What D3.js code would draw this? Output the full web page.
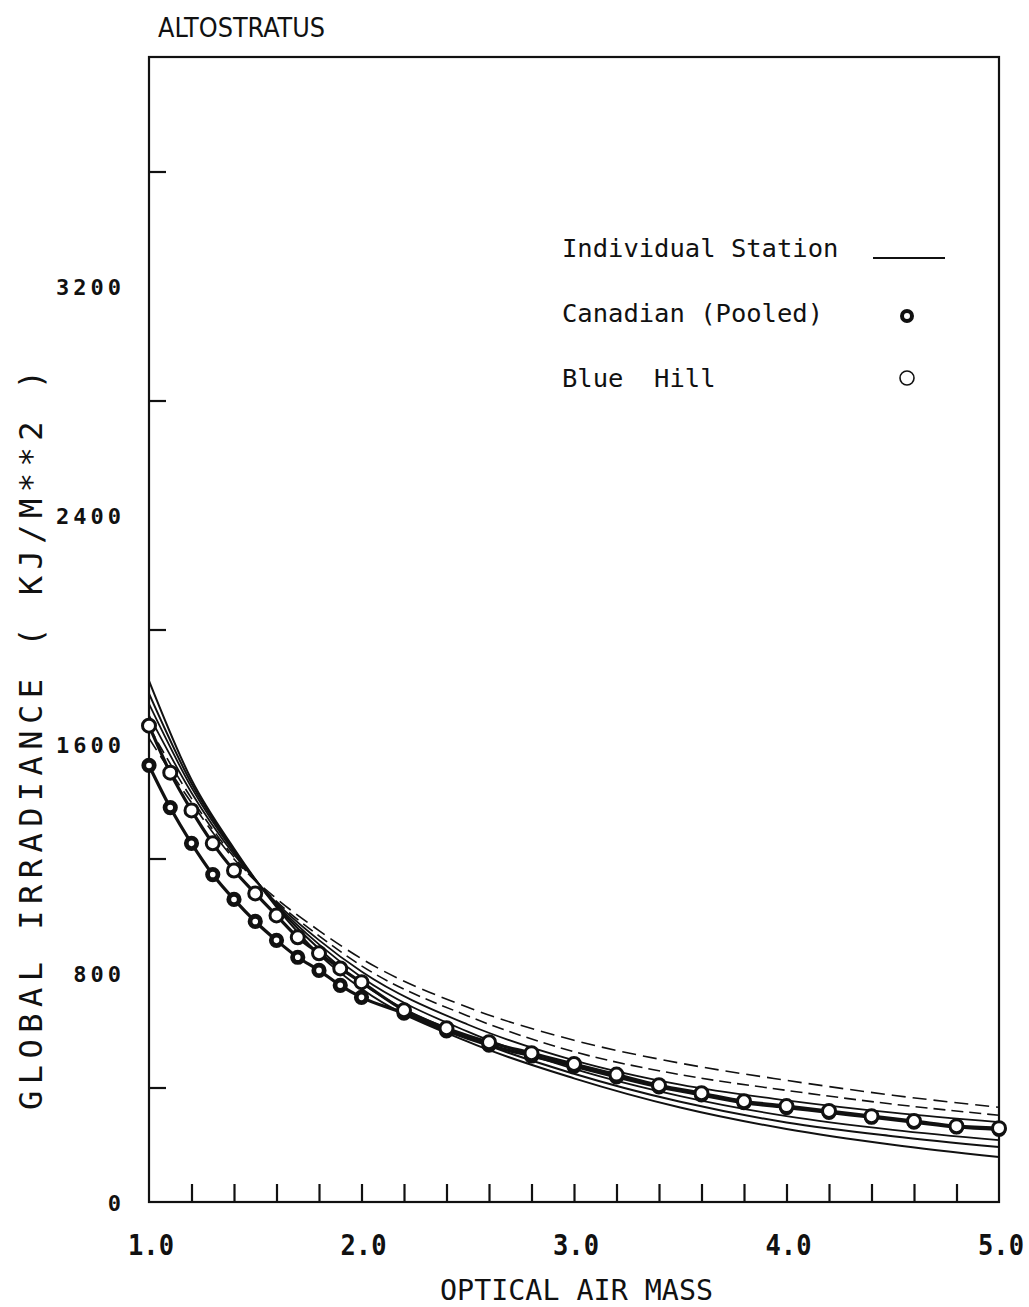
<!DOCTYPE html>
<html><head><meta charset="utf-8">
<script src="https://cdn.jsdelivr.net/npm/d3@7"></script>
<style>body{margin:0;background:#fff}</style>
</head><body>
<svg id="c" width="1029" height="1307"></svg>
<script>
// ---- data ----
const stationX = [1.0, 1.2, 1.4, 1.6, 1.8, 2.0, 2.5, 3.0, 3.5, 4.0, 4.5, 5.0];
const stationL1 = [1821, 1475, 1235, 1030, 865, 745, 560, 432, 330, 255, 200, 157];
const stationL2 = [1776, 1462, 1228, 1035, 885, 765, 575, 448, 350, 278, 230, 192];
const stationL3 = [1740, 1448, 1222, 1040, 900, 785, 595, 465, 370, 300, 252, 216];
const stationU1 = [1700, 1430, 1214, 1045, 915, 805, 620, 495, 410, 355, 312, 279];
const stationU2 = [1660, 1410, 1205, 1050, 930, 825, 650, 525, 445, 390, 342, 303];
const stationU3 = [1620, 1395, 1198, 1060, 948, 850, 680, 565, 485, 425, 373, 331];

const pooledX = [1.0, 1.1, 1.2, 1.3, 1.4, 1.5, 1.6, 1.7, 1.8, 1.9, 2.0, 2.2, 2.4, 2.6, 2.8, 3.0, 3.2, 3.4, 3.6, 3.8, 4.0, 4.2, 4.4, 4.6, 4.8, 5.0];
const canadianY = [1525, 1378, 1253, 1144, 1057, 980, 914, 855, 809, 757, 715, 660, 598, 548, 510, 474, 437, 402, 374, 347, 330, 313, 296, 279, 262, 254];
const blueHillY = [1664, 1500, 1368, 1253, 1158, 1078, 1001, 925, 869, 816, 768, 670, 607, 558, 520, 482, 445, 408, 380, 352, 335, 318, 300, 283, 265, 258];

const xMinorTicks = [1.2, 1.4, 1.6, 1.8, 2.0, 2.2, 2.4, 2.6, 2.8, 3.0, 3.2, 3.4, 3.6, 3.8, 4.0, 4.2, 4.4, 4.6, 4.8];
const xLabels = [1, 2, 3, 4, 5];
const yMinorTicks = [400, 1200, 2000, 2800, 3600];
const yLabels = [0, 800, 1600, 2400, 3200];

// ---- drawing ----
const svg = d3.select("#c");
svg.append("rect").attr("width",1029).attr("height",1307).attr("fill","#fff");
const x = d3.scaleLinear().domain([1,5]).range([149,999]);
const y = d3.scaleLinear().domain([0,4000]).range([1202,57]);
const mono = "'DejaVu Sans Mono','Liberation Mono',monospace";

// frame
svg.append("rect").attr("x",x(1)).attr("y",y(4000)).attr("width",x(5)-x(1)).attr("height",y(0)-y(4000))
  .attr("fill","none").attr("stroke","#111").attr("stroke-width",2.2);

// x ticks (inward)
const gx = svg.append("g").attr("transform",`translate(0,${y(0)})`)
  .call(d3.axisBottom(x).tickValues(xMinorTicks).tickSize(-18).tickFormat(""));
gx.select(".domain").remove();
gx.selectAll("line").attr("stroke","#111").attr("stroke-width",2.2);

// y ticks (inward)
const gy = svg.append("g").attr("transform",`translate(${x(1)},0)`)
  .call(d3.axisLeft(y).tickValues(yMinorTicks).tickSize(-17).tickFormat(""));
gy.select(".domain").remove();
gy.selectAll("line").attr("stroke","#111").attr("stroke-width",2.2);

// x labels
svg.append("g").selectAll("text").data(xLabels).join("text")
  .attr("x",d=>x(d)+2).attr("y",1255).attr("text-anchor","middle")
  .attr("font-family",mono).attr("font-weight","bold").attr("font-size",29)
  .attr("textLength",46).attr("lengthAdjust","spacingAndGlyphs")
  .attr("fill","#111").text(d=>d.toFixed(1));

// y labels
svg.append("g").selectAll("text").data(yLabels).join("text")
  .attr("x",125).attr("y",d=>y(d)+9).attr("text-anchor","end")
  .attr("font-family",mono).attr("font-weight","bold").attr("font-size",22).attr("letter-spacing",4)
  .attr("fill","#111").text(d=>String(d));

// titles
svg.append("text").attr("x",158).attr("y",37)
  .attr("font-family","'DejaVu Sans Condensed','Liberation Sans Narrow','Liberation Sans',sans-serif")
  .attr("font-size",27).attr("textLength",167).attr("lengthAdjust","spacingAndGlyphs")
  .attr("fill","#111").text("ALTOSTRATUS");
svg.append("text").attr("x",440).attr("y",1300)
  .attr("font-family",mono).attr("font-size",28).attr("textLength",273).attr("lengthAdjust","spacingAndGlyphs")
  .attr("fill","#111").text("OPTICAL AIR MASS");
svg.append("text").attr("transform","translate(42,1110) rotate(-90)")
  .attr("font-family",mono)
  .attr("font-size",32).attr("textLength",740).attr("lengthAdjust","spacing")
  .attr("fill","#111").text("GLOBAL IRRADIANCE ( KJ/M**2 )");

// individual station curves
const line = d3.line().curve(d3.curveMonotoneX);
const stations = [
  {v:stationL1, dash:null, w:2},
  {v:stationL2, dash:null, w:2},
  {v:stationL3, dash:null, w:1.8},
  {v:stationU1, dash:null, w:1.8},
  {v:stationU2, dash:"12,6", w:1.6},
  {v:stationU3, dash:"14,7", w:1.6}
];
stations.forEach(s=>{
  svg.append("path").attr("d",line(stationX.map((m,i)=>[x(m),y(s.v[i])])))
    .attr("fill","none").attr("stroke","#111").attr("stroke-width",s.w)
    .attr("stroke-dasharray",s.dash);
});

// Canadian pooled
svg.append("path").attr("d",line(pooledX.map((m,i)=>[x(m),y(canadianY[i])])))
  .attr("fill","none").attr("stroke","#111").attr("stroke-width",3.2);
svg.append("g").selectAll("circle").data(pooledX).join("circle")
  .attr("cx",d=>x(d)).attr("cy",(d,i)=>y(canadianY[i])).attr("r",5.2)
  .attr("fill","#fff").attr("stroke","#111").attr("stroke-width",4.8);

// Blue Hill
svg.append("path").attr("d",line(pooledX.map((m,i)=>[x(m),y(blueHillY[i])])))
  .attr("fill","none").attr("stroke","#111").attr("stroke-width",3.2);
svg.append("g").selectAll("circle").data(pooledX).join("circle")
  .attr("cx",d=>x(d)).attr("cy",(d,i)=>y(blueHillY[i])).attr("r",6.5)
  .attr("fill","#fff").attr("stroke","#111").attr("stroke-width",3);

// legend
const lg = svg.append("g").attr("font-family",mono).attr("font-size",25.5).attr("fill","#111");
lg.append("text").attr("x",562).attr("y",257).text("Individual Station");
lg.append("line").attr("x1",873).attr("x2",945).attr("y1",258).attr("y2",258).attr("stroke","#111").attr("stroke-width",2);
lg.append("text").attr("x",562).attr("y",322).attr("xml:space","preserve").text("Canadian (Pooled)");
lg.append("circle").attr("cx",907).attr("cy",316).attr("r",5).attr("fill","#fff").attr("stroke","#111").attr("stroke-width",4);
lg.append("text").attr("x",562).attr("y",387).attr("xml:space","preserve").style("white-space","pre").text("Blue  Hill");
lg.append("circle").attr("cx",907).attr("cy",378).attr("r",7).attr("fill","#fff").attr("stroke","#111").attr("stroke-width",1.6);
</script>
</body></html>
